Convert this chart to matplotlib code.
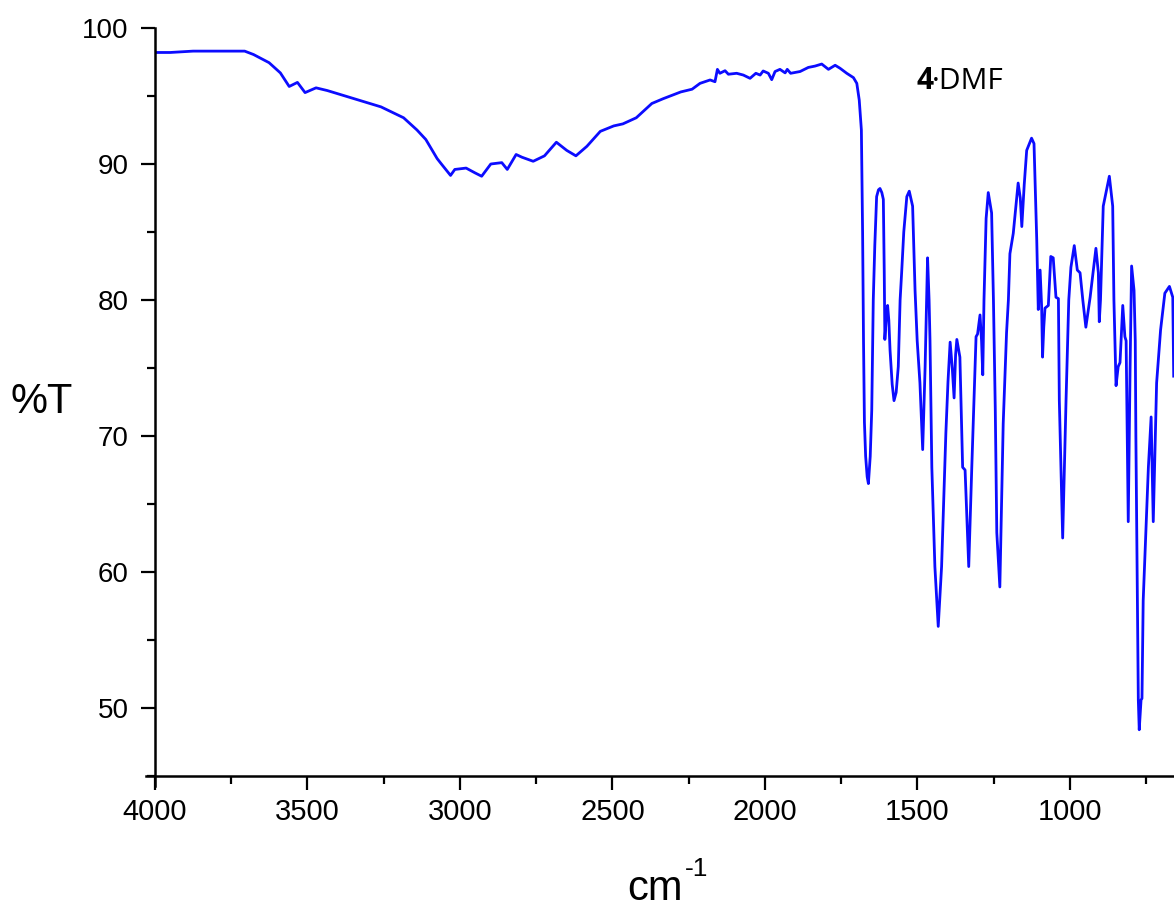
import matplotlib
matplotlib.use("Agg")
import matplotlib.pyplot as plt
from matplotlib.ticker import MultipleLocator

# IR spectrum (wavenumber in cm-1, %T)
wavenumber = [4000, 3950, 3875, 3800, 3706, 3677, 3626, 3589, 3560, 3533,
              3508, 3472, 3435, 3332, 3259, 3185, 3141, 3112, 3075, 3061,
              3031, 3017, 2980, 2951, 2929, 2899, 2863, 2845, 2816, 2797,
              2760, 2723, 2684, 2650, 2620, 2584, 2540, 2496, 2466, 2422,
              2371, 2334, 2276, 2239, 2213, 2180, 2164, 2156, 2148, 2131,
              2120, 2093, 2071, 2049, 2030, 2016, 2006, 1989, 1978, 1967,
              1951, 1934, 1927, 1916, 1885, 1858, 1836, 1814, 1792, 1770,
              1754, 1732, 1710, 1699, 1691, 1684, 1680, 1677, 1674, 1670,
              1665, 1661, 1655, 1650, 1645, 1640, 1634, 1628, 1623, 1617,
              1612, 1609, 1607, 1603, 1598, 1594, 1590, 1583, 1577, 1570,
              1563, 1557, 1552, 1545, 1535, 1527, 1516, 1508, 1501, 1492,
              1483, 1475, 1470, 1467, 1462, 1459, 1453, 1443, 1432, 1421,
              1407, 1400, 1393, 1386, 1380, 1375, 1371, 1361, 1352, 1344,
              1332, 1322, 1308, 1303, 1295, 1290, 1286, 1282, 1275, 1268,
              1257, 1251, 1245, 1240, 1230, 1219, 1208, 1202, 1197, 1186,
              1170, 1163, 1158, 1150, 1142, 1126, 1118, 1109, 1104, 1098,
              1093, 1090, 1086, 1082, 1071, 1063, 1055, 1046, 1038, 1035,
              1024, 1013, 1004, 997, 986, 976, 967, 958, 948, 934,
              915, 907, 904, 900, 891, 871, 860, 856, 849, 842,
              836, 827, 820, 816, 809, 803, 798, 790, 786, 784,
              781, 776, 773, 767, 764, 760, 743, 734, 727, 716,
              703, 694, 689, 674, 663, 660]
transmittance = [98.2, 98.2, 98.3, 98.3, 98.3, 98.05, 97.45, 96.7, 95.7, 96.0,
                 95.25, 95.6, 95.4, 94.7, 94.2, 93.4, 92.5, 91.8, 90.4, 90.0,
                 89.16, 89.6, 89.7, 89.35, 89.1, 90.0, 90.1, 89.6, 90.7, 90.5,
                 90.2, 90.6, 91.6, 91.0, 90.6, 91.3, 92.4, 92.8, 92.95, 93.4,
                 94.45, 94.8, 95.3, 95.5, 95.93, 96.18, 96.05, 96.96, 96.67, 96.86,
                 96.6, 96.67, 96.54, 96.3, 96.67, 96.54, 96.84, 96.67, 96.2, 96.8,
                 96.96, 96.7, 96.96, 96.67, 96.8, 97.1, 97.2, 97.35, 96.96, 97.26,
                 97.04, 96.67, 96.35, 95.93, 94.7, 92.5, 85.0, 77.0, 71.0, 68.5,
                 67.0, 66.5, 68.5, 71.9, 80.0, 84.0, 87.6, 88.1, 88.2, 87.9,
                 87.4, 82.0, 77.1, 78.5, 79.6, 78.5, 76.3, 73.8, 72.6, 73.2,
                 75.1, 80.0, 82.0, 85.0, 87.6, 88.0, 86.9, 80.7, 77.0, 73.9,
                 69.0, 75.1, 80.0, 83.1, 80.0, 77.0, 67.7, 60.4, 56.0, 60.4,
                 70.2, 74.0, 76.9, 75.0, 72.8, 76.0, 77.1, 75.8, 67.7, 67.5,
                 60.4, 67.7, 77.3, 77.5, 78.9, 77.0, 74.5, 80.0, 86.0, 87.9,
                 86.4, 80.0, 72.0, 62.9, 58.9, 70.9, 77.6, 80.0, 83.4, 84.9,
                 88.6, 87.5, 85.4, 88.5, 91.0, 91.9, 91.5, 84.4, 79.3, 82.2,
                 79.5, 75.8, 78.0, 79.4, 79.6, 83.2, 83.1, 80.2, 80.1, 72.6,
                 62.5, 72.6, 80.0, 82.4, 84.0, 82.2, 82.0, 80.0, 78.0, 80.2,
                 83.8, 82.0, 78.4, 80.0, 86.9, 89.1, 86.9, 80.0, 73.7, 75.1,
                 75.4, 79.6, 77.3, 77.0, 63.7, 75.0, 82.5, 80.7, 77.0, 70.0,
                 62.9, 50.6, 48.4, 50.6, 50.7, 57.9, 67.7, 71.4, 63.7, 73.9,
                 77.8, 79.5, 80.5, 81.0, 80.2, 74.4]

x_ticks = [4000, 3500, 3000, 2500, 2000, 1500, 1000]
y_ticks = [50, 60, 70, 80, 90, 100]

plt.rcParams['font.family'] = ['Liberation Sans', 'DejaVu Sans']

fig = plt.figure(figsize=(11.74, 9.08), dpi=100)
ax = fig.add_axes([155 / 1174, 132 / 908, 1019 / 1174, 748 / 908])

ax.plot(wavenumber, transmittance, color='#0c0cff', lw=2.0,
        solid_joinstyle='round')

ax.set_xlim(4000, 659)
ax.set_ylim(45, 100)
ax.set_xticks(x_ticks)
ax.set_yticks(y_ticks)
ax.xaxis.set_minor_locator(MultipleLocator(250))
ax.yaxis.set_minor_locator(MultipleLocator(5))

for side in ['top', 'right']:
    ax.spines[side].set_visible(False)
for side in ['left', 'bottom']:
    ax.spines[side].set_linewidth(1.8)
# axes lines cross a little at the origin
ax.spines['bottom'].set_bounds(4030, 659)
ax.spines['left'].set_bounds(44.3, 100)

ax.tick_params(which='major', direction='out', length=10, width=1.6)
ax.tick_params(which='minor', direction='out', length=5.5, width=1.6)
ax.tick_params(axis='x', labelsize=21, pad=5.5)
ax.tick_params(axis='y', labelsize=20, pad=9)

ax.set_ylabel('%T', fontsize=30, rotation=0, va='center', ha='center')
ax.yaxis.set_label_coords(-0.111, 0.5)

# x axis label with a plain hyphen superscript
fig.text(655 / 1174, 8 / 908, 'cm', fontsize=30, ha='center', va='baseline')
fig.text(685 / 1174, 32 / 908, '-1', fontsize=19, ha='left', va='baseline')

ax.text(1502, 95.55, '4', fontsize=21.5, fontweight='bold', family='Open Sans',
        ha='left', va='baseline')
ax.text(1452, 95.55, '·DMF', fontsize=21.5, family='Open Sans',
        ha='left', va='baseline')

fig.savefig('out.png', dpi=100)
